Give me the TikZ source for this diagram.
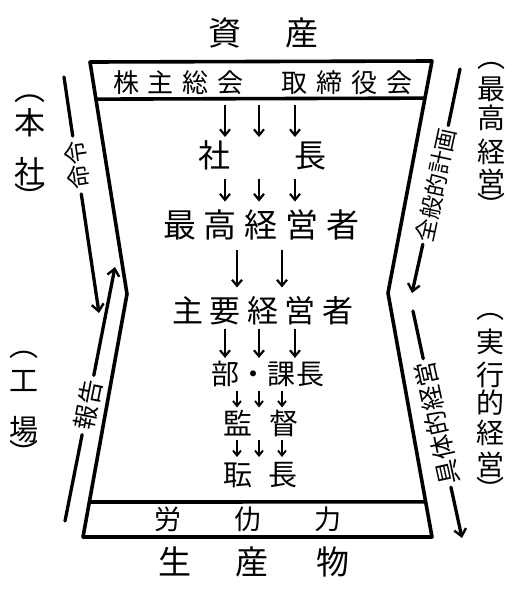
\documentclass[tikz,border=0pt]{standalone}
\usepackage{fontspec}
\newfontfamily\cjk{Noto Sans CJK JP}
\usetikzlibrary{arrows.meta,calc}
\newcommand\ksp[1]{\kern#1pt}
\begin{document}
\begin{tikzpicture}[x=1pt,y=-1pt,
  frame/.style={line width=3.6pt,line join=round},
  carr/.style={line width=2.6pt,-{Straight Barb[length=6pt,width=10pt,line width=2.2pt]}},
  sarr/.style={line width=2.2pt,-{Straight Barb[length=5pt,width=8pt,line width=1.9pt]}},
  sideline/.style={line width=3.3pt,line cap=round},
  sidearr/.style={sideline,-{Straight Barb[length=7pt,width=12pt,line width=2.4pt]}},
  lbl/.style={inner sep=0pt,font=\cjk\fontsize{#1}{#1}\selectfont},
  plbl/.style={inner sep=0pt,font=\cjk\fontsize{#1}{#1}\selectfont},
  slbl/.style={lbl=#1,inner sep=5pt}]
\useasboundingbox (0,0) rectangle (513,590);
\fill[white] (0,0) rectangle (513,590);

% frame
\coordinate (TL) at (90,62);
\coordinate (TR) at (432,61);
\coordinate (WR) at (388,293);
\coordinate (BR) at (432,537);
\coordinate (BL) at (83,537);
\coordinate (WL) at (127,294);
\draw[frame] (TL) -- (TR) -- (WR) -- (BR) -- (BL) -- (WL) -- cycle;
\coordinate (barT) at ($(TL)!0.16!(WL)$);
\draw[frame] (barT) -- ($(TR)!0.16!(WR)$);
\draw[frame] ($(WL)!0.856!(BL)$) -- ($(WR)!0.856!(BR)$);

% texts
\node[lbl=33] (shisan) at (263.5,33) {資\ksp{44}産};
\node[lbl=26] (kabu) at (263,83) {株\ksp9主\ksp9総\ksp9会\ksp{38}取\ksp9締\ksp9役\ksp9会};
\node[lbl=32] (shacho) at (262,155) {社\ksp{64}長};
\node[lbl=33] (saiko) at (261.5,225) {最\ksp8高\ksp8経\ksp8営\ksp8者};
\node[lbl=31] (shuyo) at (263,311) {主\ksp{6.5}要\ksp{6.5}経\ksp{6.5}営\ksp{6.5}者};
\node[lbl=28] (buka) at (268,374) {部・課\ksp1長};
\node[lbl=29] (kantoku) at (261,423) {監\ksp{17}督};
\node[lbl=29] (shokucho) at (260.5,475) {耺\ksp{16}長};
\node[lbl=27] (rodo) at (248,519) {労\ksp{53}仂\ksp{53}力};
\node[lbl=33] (seisan) at (254,562) {生\ksp{45}産\ksp{48}物};

% central arrows
\coordinate (cA) at (225,0);
\coordinate (cB) at (259,0);
\coordinate (cC) at (295,0);
\coordinate (cD) at (237,0);
\coordinate (cE) at (282,0);
\foreach \c in {cA,cB,cC}
  \draw[carr] ($(barT -| \c)+(0,6)$) -- ($(shacho.north -| \c)+(0,-3)$);
\foreach \c in {cA,cB,cC}
  \draw[carr] ($(shacho.south -| \c)+(0,9)$) -- ($(saiko.north -| \c)+(0,-8)$);
\foreach \c in {cD,cE}
  \draw[carr] ($(saiko.south -| \c)+(0,10)$) -- ($(shuyo.north -| \c)+(0,-9)$);
\foreach \c in {cA,cB,cC}
  \draw[carr] ($(shuyo.south -| \c)+(0,3)$) -- ($(buka.north -| \c)+(0,-3)$);
\foreach \c in {cD,cB,cE}
  \draw[sarr] ($(buka.south -| \c)+(0,4)$) -- ($(kantoku.north -| \c)+(0,-2)$);
\foreach \c in {cD,cB,cE}
  \draw[sarr] ($(kantoku.south -| \c)+(0,3)$) -- ($(shokucho.north -| \c)+(0,-5)$);

% side flows
\node[slbl=24,rotate=98.5] (mei) at (77,165) {命令};
\coordinate (meiTop) at (64,77);
\coordinate (meiTip) at (99,313);
\draw[sideline] (meiTop) -- (mei);
\draw[sidearr] (mei) -- (meiTip);

\node[slbl=25,rotate=78.8] (hou) at (88,405) {報告};
\coordinate (houTip) at (115,267);
\coordinate (houEnd) at (65,521);
\draw[sidearr] (hou) -- (houTip);
\draw[sideline] (hou) -- (houEnd);

\node[slbl=23,rotate=77.8,inner sep=3pt] (zen) at (436,185) {全般的計画};
\coordinate (zenTop) at (460,69);
\coordinate (zenTip) at (412,293);
\draw[sideline] (zenTop) -- (zen);
\draw[sidearr] (zen) -- (zenTip);

\node[slbl=25,rotate=102.3,inner sep=3pt] (gu) at (437,423) {具体的経営};
\coordinate (guTop) at (413,311);
\coordinate (guTip) at (462,538);
\draw[sideline] (guTop) -- (gu);
\draw[sidearr] (gu) -- (guTip);

% vertical labels
\foreach \ch/\y [count=\i] in {︵/99,本/123,社/172,︶/197}
  \node[lbl=31] (hon\i) at (30,\y) {\ch};
\foreach \ch/\y [count=\i] in {︵/355,工/381,場/430,︶/452}
  \node[lbl=29] (kojo\i) at (24,\y) {\ch};
\foreach \ch/\y [count=\i] in {︵/66,最/89,高/118,経/152,営/182,︶/205}
  \node[lbl=28] (saikoR\i) at (491,\y) {\ch};
\foreach \ch/\y [count=\i] in {︵/317,実/342,行/375,的/403,経/433,営/465,︶/489}
  \node[lbl=28] (jikko\i) at (490,\y) {\ch};
\end{tikzpicture}
\end{document}
